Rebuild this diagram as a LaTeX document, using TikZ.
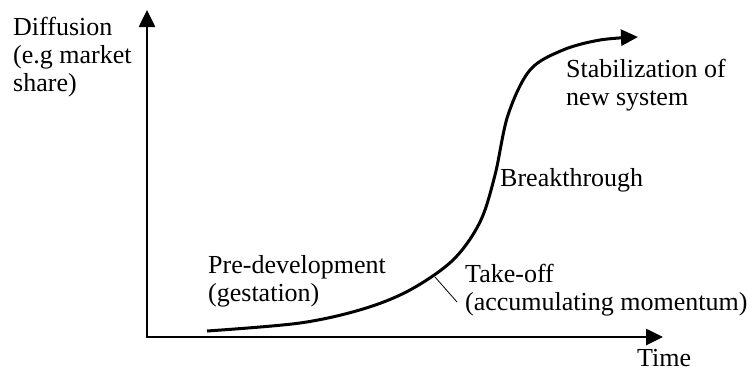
\documentclass[tikz,border=0pt]{standalone}
\usepackage{fontspec}
\setmainfont{Liberation Serif}
\usetikzlibrary{arrows.meta}

\begin{document}
\begin{tikzpicture}[x=1pt, y=-1pt,
                    every node/.style={inner sep=0pt,
                      align=left,
                      anchor=base west,
                      text=black,
                      font=\fontsize{26}{28}\selectfont},
                    axis/.style={line width=2.6pt,
                      {Triangle[length=17pt,width=16pt]}-{Triangle[length=17pt,width=16pt]}},
                    scurve/.style={line width=3pt,
                      -{Triangle[length=17pt,width=16pt]}},
                    pointer/.style={line width=0.8pt}]
\useasboundingbox (0,0) rectangle (752,372);
\coordinate (ytop) at (147,10);
\coordinate (origin) at (147,337);
\coordinate (xend) at (663,337);
\draw[axis] (ytop) -- (origin) -- (xend);
\draw[scurve] plot[smooth, tension=0.55] coordinates {(207,331) (300,323)
  (363,309) (410,290) (453,260) (480,222) (495,175) (508,115) (530,70)
  (563,50) (600,40) (638,37)};
% multi-line nodes sit on their last baseline
\node (yname) at (13,91) {Diffusion\\(e.g market\\share)};
\node (stable) at (566,105) {Stabilization of\\new system};
\node (breakthrough) at (500,186) {Breakthrough};
\node (predev) at (208,301) {Pre-development\\(gestation)};
\node (takeoff) at (465,310) {Take-off\\(accumulating momentum)};
\node (xname) at (637,366) {Time};
\coordinate (kink) at (435,277);
\coordinate (kinkend) at (457,302);
\draw[pointer] (kink) -- (kinkend);
\end{tikzpicture}
\end{document}
